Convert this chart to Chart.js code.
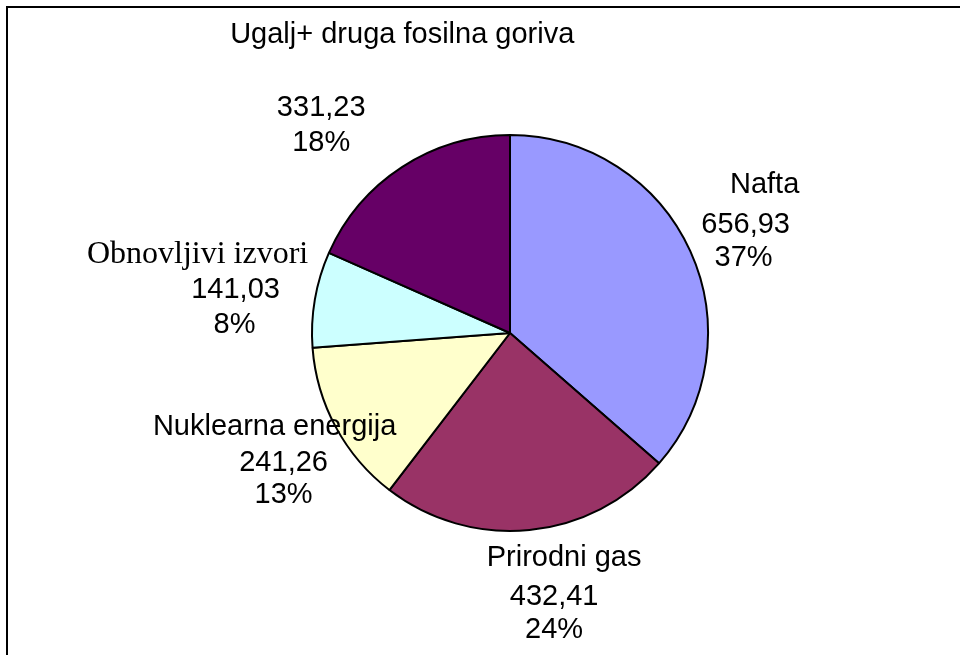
<!DOCTYPE html>
<html>
<head>
<meta charset="utf-8">
<script src="https://cdn.jsdelivr.net/npm/chart.js@4.4.1/dist/chart.umd.min.js"></script>
<style>
  html, body { margin: 0; padding: 0; background: #fff; overflow: hidden; }
  #wrap { position: relative; width: 960px; height: 655px; }
  #frame { position: absolute; left: 6px; top: 6px; width: 960px; height: 700px;
           border-left: 2px solid #000; border-top: 2px solid #000; }
  canvas { position: absolute; left: 0; top: 0; }
</style>
</head>
<body>
<div id="wrap">
  <div id="frame"></div>
  <canvas id="energyChart" width="960" height="655"></canvas>
</div>
<script>
// Energy sources (values as printed on the chart)
const categories = ['Nafta', 'Prirodni gas', 'Nuklearna energija', 'Obnovljivi izvori', 'Ugalj+ druga fosilna goriva'];
const values = [656.93, 432.41, 241.26, 141.03, 331.23];
const valueLabels = ['656,93', '432,41', '241,26', '141,03', '331,23'];
const percentLabels = ['37%', '24%', '13%', '8%', '18%'];
const sliceColors = ['#9999FF', '#993366', '#FFFFCC', '#CCFFFF', '#660066'];

// label placement: offsets of each line (name, value, percent) from the slice's label anchor
const labelLayout = [
  { name: [13, -38], value: [-6, 2], pct: [-8, 35], serif: false },
  { name: [28, -39], value: [18, 0], pct: [18, 33], serif: false },
  { name: [-2, -32], value: [7, 4], pct: [7, 36], serif: false },
  { name: [-51, -33], value: [-13, 2], pct: [-14, 37], serif: true },
  { name: [37, -76], value: [-44, -3], pct: [-44, 32], serif: false }
];

const sliceLabels = {
  id: 'sliceLabels',
  afterDatasetsDraw(chart) {
    const ctx = chart.ctx;
    const meta = chart.getDatasetMeta(0);
    ctx.save();
    ctx.fillStyle = '#000';
    ctx.textAlign = 'center';
    ctx.textBaseline = 'middle';
    meta.data.forEach((arc, i) => {
      const p = arc.getProps(['x', 'y', 'startAngle', 'endAngle', 'outerRadius'], true);
      const mid = (p.startAngle + p.endAngle) / 2;
      const r = p.outerRadius * 1.34;
      const ax = p.x + Math.cos(mid) * r;
      const ay = p.y + Math.sin(mid) * r;
      const lay = labelLayout[i];
      ctx.font = lay.serif ? '32px "Liberation Serif", "Times New Roman", serif'
                           : '29px "Liberation Sans", Arial, sans-serif';
      ctx.fillText(categories[i], ax + lay.name[0], ay + lay.name[1]);
      ctx.font = '29px "Liberation Sans", Arial, sans-serif';
      ctx.fillText(valueLabels[i], ax + lay.value[0], ay + lay.value[1]);
      ctx.fillText(percentLabels[i], ax + lay.pct[0], ay + lay.pct[1]);
    });
    ctx.restore();
  }
};

new Chart(document.getElementById('energyChart'), {
  type: 'pie',
  data: {
    labels: categories,
    datasets: [{
      data: values,
      backgroundColor: sliceColors,
      borderColor: '#000',
      borderWidth: 2
    }]
  },
  options: {
    responsive: false,
    animation: false,
    layout: { padding: { left: 311, top: 134, right: 251, bottom: 123 } },
    plugins: {
      legend: { display: false },
      tooltip: { enabled: false }
    }
  },
  plugins: [sliceLabels]
});
</script>
</body>
</html>
